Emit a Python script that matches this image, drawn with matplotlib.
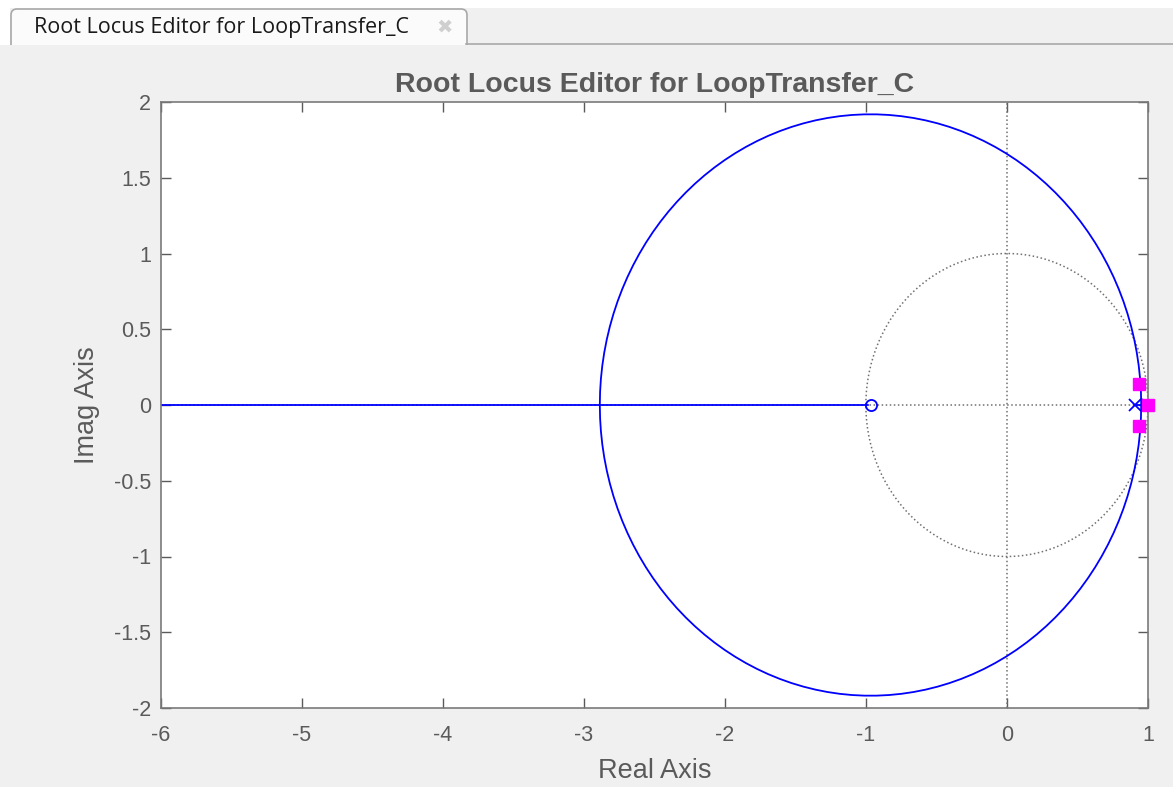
import numpy as np
import matplotlib
matplotlib.use("Agg")
import matplotlib.pyplot as plt
from matplotlib.patches import FancyBboxPatch, Rectangle

plt.rcParams['font.family'] = ['Liberation Sans', 'DejaVu Sans']
plt.rcParams['axes.unicode_minus'] = False

# open-loop poles / zero of LoopTransfer_C (z-plane)
ol_poles = [0.905, 1.0]
ol_zeros = [-0.967]

# closed-loop poles at the current gain
cl_re = [0.937, 0.937, 1.0]
cl_im = [0.14, -0.14, 0.0]

x_ticks = [-6, -5, -4, -3, -2, -1, 0, 1]
y_ticks = [-2, -1.5, -1, -0.5, 0, 0.5, 1, 1.5, 2]
y_tick_labels = ['-2', '-1.5', '-1', '-0.5', '0', '0.5', '1', '1.5', '2']

title = 'Root Locus Editor for LoopTransfer_C'

GREY = '#5a5a5a'
W, H = 1173, 787

fig = plt.figure(figsize=(W / 100, H / 100), dpi=100, facecolor='#f0f0f0')

# window chrome: tab strip drawn in pixel coordinates
bg = fig.add_axes([0, 0, 1, 1], zorder=0)
bg.set_xlim(0, W)
bg.set_ylim(H, 0)
bg.axis('off')
bg.add_patch(Rectangle((0, 0), W, 8, facecolor='white', edgecolor='none'))
bg.add_patch(Rectangle((0, 0), 10, 45, facecolor='white', edgecolor='none'))
bg.plot([466, W], [44, 44], color='#a8a8a8', lw=1.2)
bg.add_patch(FancyBboxPatch((11, 9), 456, 50, boxstyle='round,pad=0,rounding_size=6',
                            facecolor='#fbfbfb', edgecolor='#a8a8a8', lw=1.2))
bg.add_patch(Rectangle((9, 45), 462, 20, facecolor='#f0f0f0', edgecolor='none'))
bg.text(34, 27, title, fontsize=15.5, color='#1a1a1a', va='center', ha='left',
        family=['Open Sans', 'DejaVu Sans'])
bg.text(445, 27, '\u2716', fontsize=14, color='#cfcfcf', va='center', ha='center',
        family='DejaVu Sans')

ax = fig.add_axes([160.5 / W, 1 - 708 / H, 987.5 / W, 606 / H], zorder=1)
ax.set_facecolor('white')

# root locus: roots of (z-p1)(z-p2) + K (z-z0) over the gain sweep
p_poly = np.poly(ol_poles)
z_poly = np.poly(ol_zeros)
s = sum(ol_poles)
P = ol_poles[0] * ol_poles[1]
k_break = np.sort(np.roots([1, 4 * ol_zeros[0] - 2 * s, s ** 2 - 4 * P]).real)
gains = np.unique(np.concatenate([
    np.linspace(0, k_break[0], 6),
    k_break[0] + (k_break[1] - k_break[0]) * (1 - np.cos(np.linspace(0, np.pi, 70))) / 2,
    np.geomspace(k_break[1], 200, 60),
]))
branches = []
for k in gains:
    poly = p_poly + k * np.concatenate([[0], z_poly])
    r = np.roots(poly)
    r = np.where(np.abs(r.imag) < 1e-6, r.real + 0j, r)
    r = sorted(r, key=lambda c: (round(c.imag, 9), c.real), reverse=True)
    branches.append(r)
branches = np.array(branches)

# grid: unit circle and axes
th = np.linspace(0, 2 * np.pi, 400)
ax.plot(np.cos(th), np.sin(th), ':', color='#707070', lw=1.1)
ax.axvline(0, ls=':', color='#707070', lw=1.1)
ax.axhline(0, ls=':', color='#707070', lw=1.1)

for b in range(branches.shape[1]):
    ax.plot(branches[:, b].real, branches[:, b].imag, color='#0000ff', lw=1.3)

ax.plot(ol_zeros, np.zeros(len(ol_zeros)), 'o', mfc='none', mec='#0000ff',
        mew=1.3, ms=8)
ax.plot(ol_poles, np.zeros(len(ol_poles)), 'x', color='#0000ff', mew=1.3, ms=9)
ax.plot(cl_re, cl_im, 's', color='#ff00ff', ms=8, clip_on=False, zorder=5)

ax.set_xlim(-6, 1)
ax.set_ylim(-2, 2)
ax.set_xticks(x_ticks)
ax.set_xticklabels([str(t) for t in x_ticks])
ax.set_yticks(y_ticks)
ax.set_yticklabels(y_tick_labels)
ax.tick_params(direction='in', length=7, width=1, color=GREY, labelcolor=GREY,
               labelsize=15.5, top=True, right=True)
ax.tick_params(axis='x', pad=12)
ax.tick_params(axis='y', pad=7)
for sp in ax.spines.values():
    sp.set_color('#7a7a7a')
    sp.set_linewidth(1.2)

ax.set_xlabel('Real Axis', fontsize=19.5, color=GREY, labelpad=9)
ax.set_ylabel('Imag Axis', fontsize=19.5, color=GREY, labelpad=10)
ax.set_title(title, fontsize=20.5, fontweight='bold', color=GREY, pad=7)

fig.savefig('out.png', dpi=100, facecolor=fig.get_facecolor())
